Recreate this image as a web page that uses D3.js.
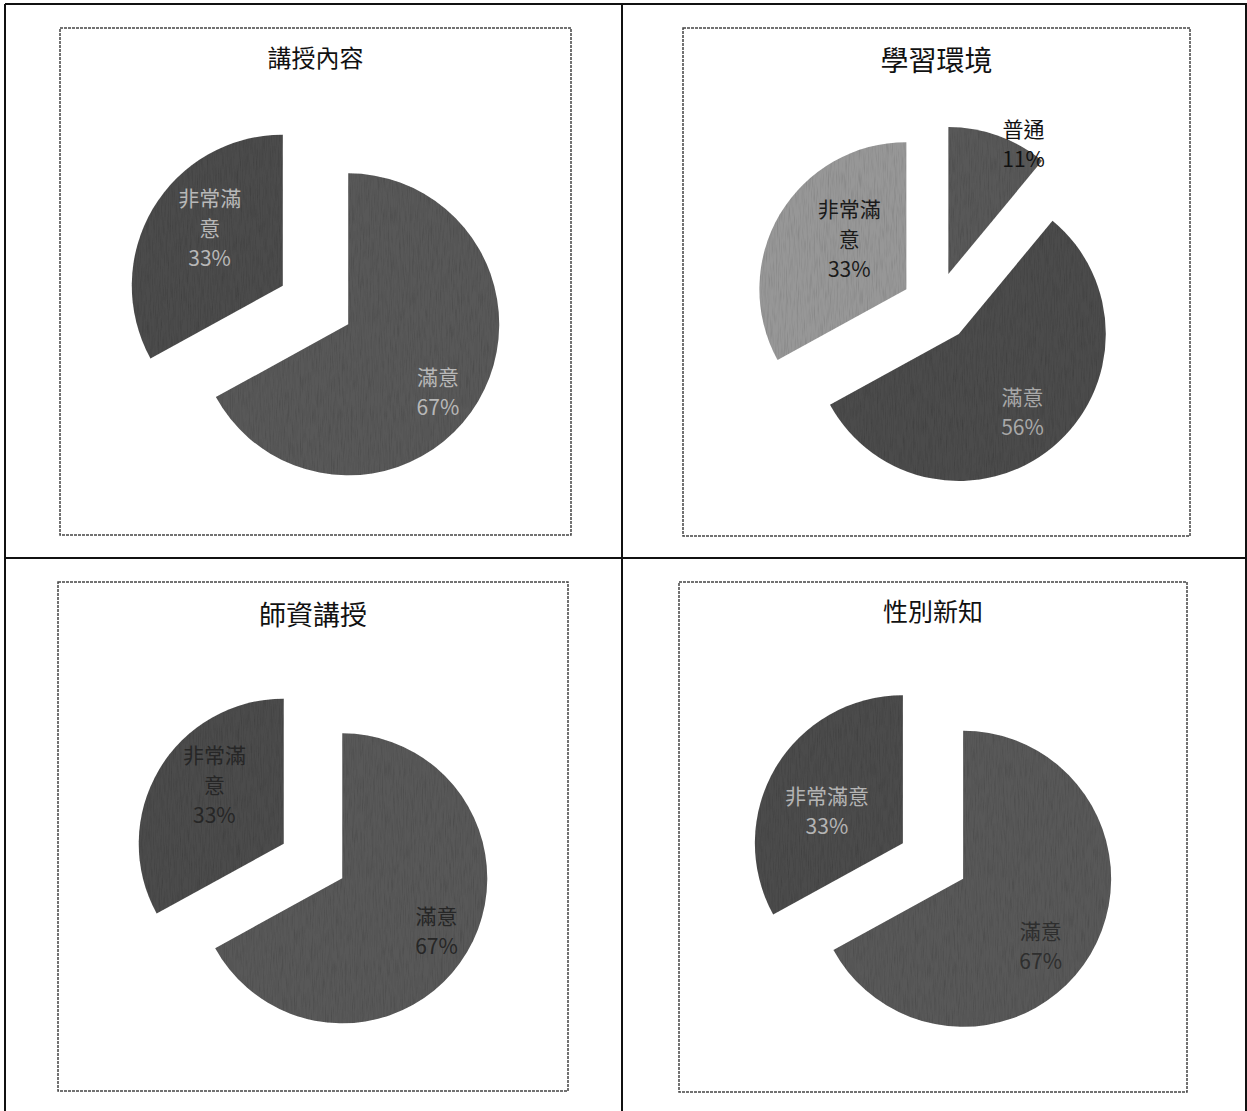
<!DOCTYPE html>
<html>
<head>
<meta charset="utf-8">
<script src="https://cdn.jsdelivr.net/npm/d3@7"></script>
<style>
  html, body { margin: 0; padding: 0; background: #fff; }
  svg { display: block; }
</style>
</head>
<body>
<svg id="chart" width="1247" height="1111"></svg>
<script>
// ---------- DATA ----------
const titles = ["講授內容", "學習環境", "師資講授", "性別新知"];

const categories1 = ["滿意", "非常滿意"];
const values1 = [67, 33];

const categories2 = ["普通", "滿意", "非常滿意"];
const values2 = [11, 56, 33];

const categories3 = ["滿意", "非常滿意"];
const values3 = [67, 33];

const categories4 = ["滿意", "非常滿意"];
const values4 = [67, 33];

// ---------- LAYOUT / STYLE ----------
const W = 1247, H = 1111;
const gridX = [5, 622, 1246];
const gridY = [4, 558, 1111];
const frames = [
  {x: 60, y: 28, w: 511, h: 507},
  {x: 683, y: 28, w: 507, h: 508},
  {x: 58, y: 582, w: 510, h: 509},
  {x: 679, y: 582, w: 508, h: 510}
];
const pieCfg = [
  {r: 151, explode: 38, cy: 277, titleSize: 24, titleY: 28, wrap: true,
   labelFrac: [0.74, 0.62], labelTurn: [6, 8], labelColor: ["#b8b8b8", "#b8b8b8"]},
  {r: 147, explode: 35, cy: 279, titleSize: 28, titleY: 31, wrap: true,
   labelFrac: [1.03, 0.68, 0.52], labelTurn: [10, 0, 11], labelColor: ["#111", "#a8a8a8", "#1a1a1a"]},
  {r: 145, explode: 34, cy: 279, titleSize: 27, titleY: 31, wrap: true,
   labelFrac: [0.74, 0.63], labelTurn: [-2, 10], labelColor: ["#262626", "#262626"]},
  {r: 148, explode: 35, cy: 279, titleSize: 25, titleY: 28, wrap: false,
   labelFrac: [0.69, 0.56], labelTurn: [10, -7], labelColor: ["#2e2e2e", "#b4b4b4"]}
];
const sliceColors = ["#585858", "#4c4c4c", "#979797"];
const dataSets = [
  [categories1, values1],
  [categories2, values2],
  [categories3, values3],
  [categories4, values4]
];

const svg = d3.select("#chart");
const defs = svg.append("defs");

// scan-like grain
const f = defs.append("filter").attr("id", "grain").attr("x", "-5%").attr("y", "-5%").attr("width", "110%").attr("height", "110%");
f.append("feTurbulence").attr("type", "fractalNoise").attr("baseFrequency", "0.9 0.06").attr("numOctaves", 2).attr("seed", 3).attr("result", "noise");
f.append("feColorMatrix").attr("in", "noise").attr("type", "matrix")
  .attr("values", "0 0 0 0 0  0 0 0 0 0  0 0 0 0 0  0 0 0 -0.5 0.28").attr("result", "dark");
f.append("feComposite").attr("in", "dark").attr("in2", "SourceGraphic").attr("operator", "in").attr("result", "darkIn");
f.append("feMerge").selectAll("feMergeNode").data(["SourceGraphic", "darkIn"]).join("feMergeNode").attr("in", d => d);

// table grid
svg.append("rect").attr("width", W).attr("height", H).attr("fill", "#fff");
const grid = svg.append("g").attr("stroke", "#111").attr("stroke-width", 2).attr("fill", "none");
gridX.forEach(x => grid.append("line").attr("x1", x).attr("x2", x).attr("y1", gridY[0]).attr("y2", H));
grid.append("line").attr("x1", gridX[0]).attr("x2", W).attr("y1", gridY[0]).attr("y2", gridY[0]);
grid.append("line").attr("x1", gridX[0]).attr("x2", W).attr("y1", gridY[1]).attr("y2", gridY[1]);

const pie = d3.pie().sort(null).value(d => d.v);
const fontFamily = "'Noto Sans CJK TC', 'Noto Sans CJK SC', sans-serif";

dataSets.forEach(([cats, vals], i) => {
  const fr = frames[i], cfg = pieCfg[i];
  const g = svg.append("g").attr("transform", `translate(${fr.x},${fr.y})`);

  g.append("rect").attr("width", fr.w).attr("height", fr.h)
    .attr("fill", "#fff").attr("stroke", "#444").attr("stroke-width", 1.5)
    .attr("stroke-dasharray", "3 1");

  g.append("text").attr("x", fr.w / 2).attr("y", cfg.titleY)
    .attr("text-anchor", "middle").attr("dominant-baseline", "central")
    .attr("font-family", fontFamily).attr("font-size", cfg.titleSize)
    .attr("fill", "#111").text(titles[i]);

  const cx = fr.w / 2, cy = cfg.cy;
  const arc = d3.arc().innerRadius(0).outerRadius(cfg.r);
  const total = d3.sum(vals);
  const arcs = pie(cats.map((c, k) => ({c, v: vals[k]})));

  const pg = g.append("g").attr("transform", `translate(${cx},${cy})`);
  const slices = pg.selectAll("g.slice").data(arcs).join("g")
    .attr("class", "slice")
    .attr("transform", d => {
      const m = (d.startAngle + d.endAngle) / 2;
      return `translate(${cfg.explode * Math.sin(m)},${-cfg.explode * Math.cos(m)})`;
    });

  slices.append("path").attr("d", arc)
    .attr("fill", d => sliceColors[d.index])
    .attr("filter", "url(#grain)");

  slices.each(function(d) {
    const m = (d.startAngle + d.endAngle) / 2 + cfg.labelTurn[d.index] * Math.PI / 180;
    const rr = cfg.r * cfg.labelFrac[d.index];
    const lx = rr * Math.sin(m), ly = -rr * Math.cos(m);
    const pct = Math.round(d.data.v / total * 100) + "%";
    let lines;
    if (cfg.wrap && d.data.c.length > 3) lines = [d.data.c.slice(0, 3), d.data.c.slice(3), pct];
    else lines = [d.data.c, pct];
    const lh = 30;
    const t = d3.select(this).append("text")
      .attr("text-anchor", "middle").attr("dominant-baseline", "central")
      .attr("font-family", fontFamily).attr("font-size", 21)
      .attr("fill", cfg.labelColor[d.index]);
    lines.forEach((ln, k) => {
      t.append("tspan").attr("x", lx).attr("y", ly + (k - (lines.length - 1) / 2) * lh).text(ln);
    });
  });
});
</script>
</body>
</html>
